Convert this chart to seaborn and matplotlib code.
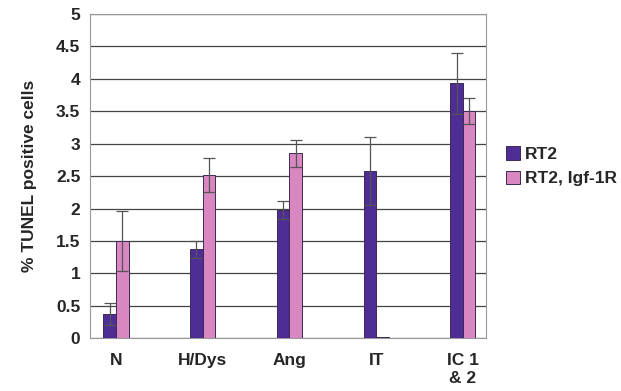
import numpy as np
import pandas as pd
import seaborn as sns
import matplotlib.pyplot as plt

categories = ['N', 'H/Dys', 'Ang', 'IT', 'IC 1\n& 2']
groups = ['RT2', 'RT2, Igf-1R']
rt2 = [0.38, 1.37, 1.98, 2.58, 3.93]
rt2_err = [0.17, 0.13, 0.14, 0.52, 0.47]
igf = [1.50, 2.52, 2.85, 0.02, 3.50]
igf_err = [0.47, 0.26, 0.21, 0.0, 0.20]

df = pd.DataFrame({
    'cat': categories * 2,
    'val': rt2 + igf,
    'group': [groups[0]] * 5 + [groups[1]] * 5,
})

sns.set_style('white')
plt.rcParams['font.family'] = ['Liberation Sans', 'DejaVu Sans']
plt.rcParams['font.weight'] = 'bold'

fig = plt.figure(figsize=(6.21, 3.91), dpi=100)
ax = fig.add_axes([0.145, 0.135, 0.638, 0.829])

sns.barplot(data=df, x='cat', y='val', hue='group', order=categories, hue_order=groups,
            palette=['#4E2D95', '#D987C0'], saturation=1, width=0.29, edgecolor='#3a2a55',
            linewidth=0.7, errorbar=None, ax=ax, zorder=3)

# error bars on top of bars
errs = rt2_err + igf_err
for p, e in zip(ax.patches[:10], errs):
    if e <= 0:
        continue
    xc = p.get_x() + p.get_width() / 2
    ax.errorbar(xc, p.get_height(), yerr=e, color='#555555', capsize=4,
                elinewidth=0.9, capthick=0.9, zorder=4)

ax.set_ylim(0, 5)
ax.set_yticks(np.arange(0, 5.01, 0.5))
ax.set_yticklabels(['0', '0.5', '1', '1.5', '2', '2.5', '3', '3.5', '4', '4.5', '5'])
ax.set_xlim(-0.3, 4.27)
ax.yaxis.grid(True, color='#444444', linewidth=0.9, zorder=0)
ax.set_axisbelow(True)
for s in ax.spines.values():
    s.set_color('#999999')
    s.set_linewidth(0.8)
ax.tick_params(axis='y', length=5, color='#777777', labelsize=12.5, pad=2)
ax.tick_params(axis='x', length=0, labelsize=12.5, pad=11)
for lbl in ax.get_xticklabels() + ax.get_yticklabels():
    lbl.set_fontweight('bold')
ax.set_xlabel('')
ax.set_ylabel('% TUNEL positive cells', fontsize=12.5, fontweight='bold', labelpad=14)

ax.legend(loc='center left', bbox_to_anchor=(1.01, 0.53), frameon=False,
          handlelength=0.8, handleheight=0.8, handletextpad=0.3,
          labelspacing=0.5, prop={'weight': 'bold', 'size': 12.5})

fig.savefig('out.png', dpi=100)
